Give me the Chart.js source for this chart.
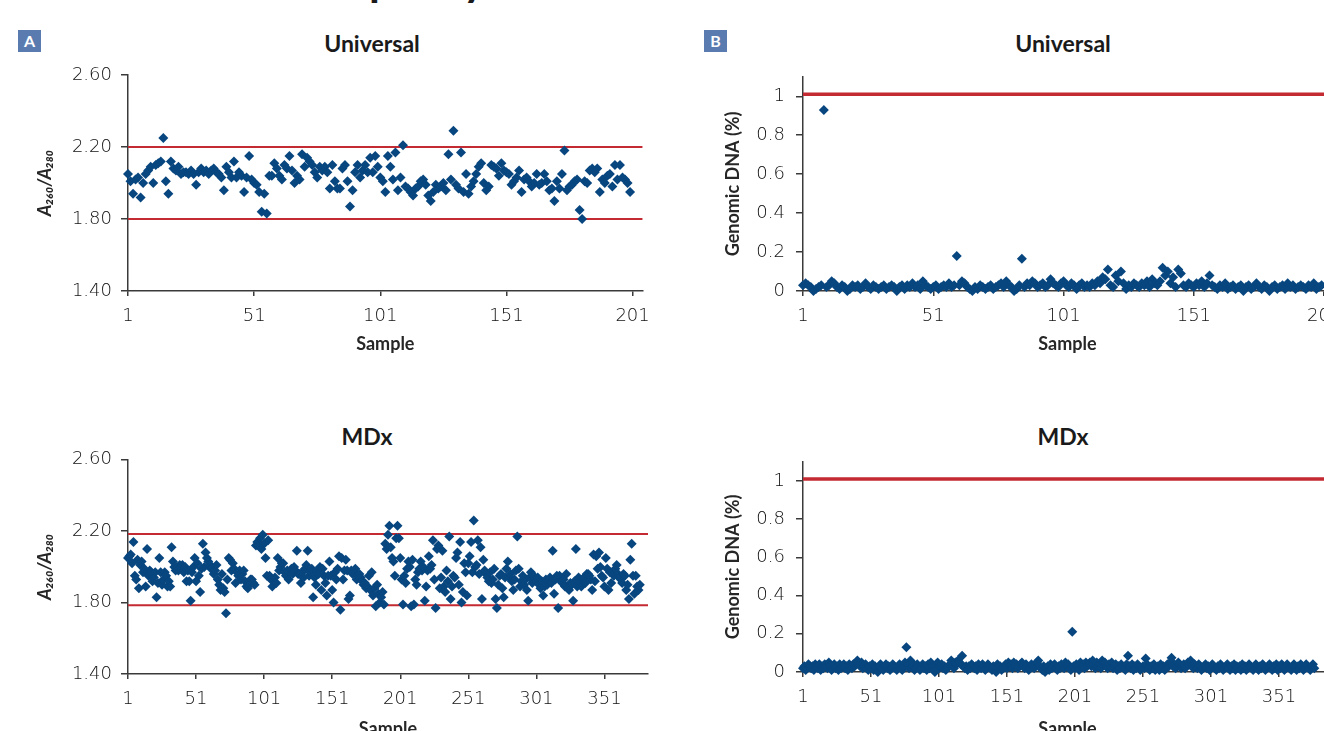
<!DOCTYPE html>
<html>
<head>
<meta charset="utf-8">
<script src="https://cdn.jsdelivr.net/npm/chart.js@4.4.1/dist/chart.umd.min.js"></script>
<style>
  html, body { margin: 0; padding: 0; width: 1324px; height: 731px; overflow: hidden; background: #fff; }
  body { position: relative; font-family: Lato, "DejaVu Sans", sans-serif; }
  canvas { position: absolute; }
  .head { position: absolute; top: -43px; right: 838px; font: bold 44px/44px Lato, sans-serif; color: #1a1a1a; white-space: nowrap; }
  .tag { position: absolute; top: 30px; width: 23px; height: 22px; background: #5a7bb0; color: #fff;
         font: bold 16px/22px Lato, sans-serif; text-align: center; }
  .ptitle { position: absolute; width: 200px; height: 28px; line-height: 28px; text-align: center;
            font-weight: bold; font-size: 23px; color: #1a1a1a; }
</style>
</head>
<body>
<div class="head">RNA purity</div>
<div class="tag" style="left:18px">A</div>
<div class="tag" style="left:704px">B</div>
<div class="ptitle" style="left:272px;top:29px">Universal</div>
<div class="ptitle" style="left:963px;top:29px">Universal</div>
<div class="ptitle" style="left:267px;top:422px">MDx</div>
<div class="ptitle" style="left:963px;top:422px">MDx</div>

<canvas id="ratioUniv" width="660" height="305" style="left:0;top:55px"></canvas>
<canvas id="gdnaUniv" width="720" height="305" style="left:660px;top:55px"></canvas>
<canvas id="ratioMdx" width="660" height="305" style="left:0;top:440px"></canvas>
<canvas id="gdnaMdx" width="720" height="305" style="left:660px;top:440px"></canvas>

<script>
// A260/A280 ratio, Universal kit (samples 1-200)
const univRatio = [
  2.05, 2.01, 1.94, 2.02, 2.03, 1.92, 2.00, 2.05, 2.07, 2.09,
  2.00, 2.10, 2.11, 2.12, 2.25, 2.01, 1.94, 2.12, 2.08, 2.07,
  2.09, 2.05, 2.06, 2.06, 2.05, 2.07, 2.05, 1.99, 2.06, 2.08,
  2.06, 2.07, 2.05, 2.07, 2.08, 2.06, 2.05, 2.03, 1.96, 2.09,
  2.06, 2.03, 2.12, 2.03, 2.06, 2.04, 1.95, 2.03, 2.15, 2.02,
  2.00, 1.99, 1.95, 1.84, 1.94, 1.83, 2.04, 2.04, 2.11, 2.08,
  2.04, 2.02, 2.10, 2.08, 2.15, 2.07, 2.00, 2.04, 2.02, 2.16,
  2.09, 2.14, 2.12, 2.10, 2.06, 2.03, 2.09, 2.07, 2.09, 2.06,
  1.97, 2.10, 2.01, 1.97, 1.97, 2.08, 2.10, 2.01, 1.87, 1.96,
  2.06, 2.10, 2.03, 2.07, 2.10, 2.06, 2.14, 2.06, 2.15, 2.09,
  2.03, 2.01, 1.95, 2.15, 2.09, 2.02, 2.17, 1.96, 2.03, 2.21,
  1.98, 1.97, 1.95, 1.93, 1.97, 1.98, 2.01, 2.02, 1.99, 1.93,
  1.90, 1.95, 1.99, 1.97, 1.98, 2.00, 1.96, 2.16, 2.02, 2.29,
  1.99, 1.97, 2.17, 1.95, 2.05, 1.94, 1.98, 2.01, 2.05, 2.09,
  2.11, 2.00, 1.96, 1.98, 2.10, 2.09, 2.08, 2.04, 2.11, 2.07,
  2.06, 2.05, 1.99, 2.01, 2.03, 2.07, 1.95, 2.02, 2.03, 2.01,
  1.98, 2.00, 2.05, 1.99, 2.00, 2.05, 2.01, 1.96, 1.97, 1.90,
  2.01, 1.97, 2.05, 2.18, 1.96, 1.98, 1.99, 2.01, 2.02, 1.85,
  1.80, 2.01, 2.00, 2.07, 2.08, 2.06, 2.08, 1.95, 2.02, 2.00,
  2.04, 2.05, 1.98, 2.10, 2.02, 2.10, 2.03, 2.02, 2.00, 1.95
];

// A260/A280 ratio, MDx kit (samples 1-377)
const mdxRatio = [
  2.05, 2.06, 2.07, 2.02, 2.14, 1.95, 1.93, 2.04, 1.88, 2.01,
  2.03, 1.97, 1.99, 1.89, 2.10, 1.95, 1.98, 1.97, 1.92, 1.94,
  1.97, 1.83, 1.91, 2.05, 1.97, 1.90, 1.93, 1.97, 1.95, 1.89,
  1.92, 1.89, 2.11, 2.03, 2.00, 1.98, 2.00, 1.98, 2.01, 2.00,
  2.01, 1.97, 2.00, 1.92, 1.98, 1.92, 1.81, 1.97, 2.00, 2.05,
  1.92, 2.02, 1.95, 1.86, 1.99, 2.13, 2.00, 2.08, 2.05, 2.03,
  2.01, 1.99, 2.00, 1.96, 1.98, 2.01, 1.93, 1.90, 1.87, 1.96,
  1.88, 1.86, 1.74, 1.93, 2.05, 2.04, 1.98, 2.02, 1.99, 1.91,
  1.97, 1.95, 1.98, 1.93, 1.96, 1.98, 1.92, 1.89, 1.88, 1.90,
  1.93, 1.93, 1.91, 1.90, 2.12, 2.14, 2.12, 2.16, 2.10, 2.18,
  2.13, 2.05, 1.95, 2.15, 1.95, 1.93, 1.89, 1.92, 1.94, 1.91,
  2.05, 1.98, 2.00, 2.02, 2.02, 1.97, 1.95, 1.98, 1.93, 1.97,
  1.99, 1.96, 2.00, 1.98, 2.09, 1.96, 1.96, 1.91, 1.97, 1.94,
  1.99, 2.01, 2.09, 1.95, 1.97, 1.99, 1.83, 1.94, 1.90, 1.98,
  1.96, 2.00, 1.87, 1.99, 1.95, 1.91, 1.84, 1.95, 2.03, 1.95,
  1.87, 1.80, 1.97, 1.93, 1.99, 2.06, 1.76, 2.05, 1.93, 1.98,
  2.04, 1.98, 1.82, 1.84, 1.98, 1.96, 1.97, 1.99, 1.93, 1.95,
  1.96, 1.94, 1.92, 1.90, 1.91, 1.88, 1.89, 1.95, 1.87, 1.97,
  1.84, 1.88, 1.78, 1.90, 1.85, 1.80, 1.83, 1.86, 1.79, 2.13,
  2.10, 2.18, 2.23, 2.11, 2.05, 2.03, 1.95, 2.16, 2.23, 2.16,
  2.05, 1.93, 1.79, 1.95, 1.91, 1.99, 2.03, 2.00, 1.78, 2.04,
  1.79, 1.93, 1.90, 1.97, 1.99, 2.03, 1.98, 2.00, 1.81, 1.89,
  1.98, 2.06, 1.99, 2.01, 2.15, 1.93, 1.77, 2.10, 2.12, 1.88,
  1.94, 2.09, 1.89, 1.86, 1.98, 1.92, 2.17, 1.82, 1.89, 1.95,
  1.94, 2.05, 2.08, 1.90, 2.14, 1.80, 1.86, 2.02, 1.97, 1.84,
  2.02, 2.06, 2.14, 1.97, 2.26, 2.00, 2.01, 2.15, 1.96, 2.11,
  1.82, 2.04, 1.98, 1.96, 1.94, 1.92, 1.97, 1.91, 1.93, 1.99,
  1.82, 1.77, 1.90, 1.95, 1.96, 1.88, 1.83, 1.94, 1.99, 2.03,
  1.94, 1.96, 1.92, 1.87, 1.93, 1.98, 2.17, 1.99, 1.89, 1.92,
  1.95, 1.90, 1.93, 1.87, 1.81, 1.94, 1.97, 1.91, 1.95, 1.93,
  1.92, 1.94, 1.90, 1.88, 1.92, 1.84, 1.89, 1.93, 1.90, 1.92,
  1.94, 1.91, 2.09, 1.85, 1.93, 1.95, 1.77, 1.95, 1.92, 1.91,
  1.93, 1.89, 1.96, 1.88, 1.87, 1.91, 1.90, 1.81, 1.92, 2.10,
  1.89, 1.94, 1.92, 1.89, 1.93, 1.94, 1.91, 1.96, 1.96, 1.95,
  1.93, 1.87, 2.07, 1.92, 2.06, 1.99, 2.08, 2.00, 1.95, 1.94,
  1.89, 2.05, 1.99, 1.87, 1.97, 1.91, 1.97, 1.95, 1.99, 2.01,
  1.96, 1.94, 1.93, 1.91, 1.96, 1.95, 1.87, 1.90, 1.82, 2.04,
  2.13, 1.95, 1.85, 1.95, 1.89, 1.87, 1.90
];

// Genomic DNA (%), Universal kit (samples 1-200)
const univGdna = [
  0.03, 0.04, 0.03, 0.02, 0.00, 0.01, 0.02, 0.03, 0.93, 0.02,
  0.03, 0.05, 0.04, 0.02, 0.01, 0.03, 0.02, 0.00, 0.01, 0.03,
  0.02, 0.03, 0.01, 0.02, 0.04, 0.02, 0.01, 0.03, 0.02, 0.01,
  0.02, 0.03, 0.01, 0.02, 0.03, 0.02, 0.00, 0.02, 0.03, 0.01,
  0.03, 0.02, 0.04, 0.02, 0.03, 0.01, 0.05, 0.03, 0.02, 0.01,
  0.02, 0.03, 0.01, 0.02, 0.03, 0.02, 0.04, 0.02, 0.03, 0.18,
  0.03, 0.05, 0.04, 0.02, 0.01, 0.00, 0.02, 0.01, 0.03, 0.02,
  0.01, 0.02, 0.03, 0.01, 0.02, 0.03, 0.04, 0.02, 0.05, 0.03,
  0.02, 0.00, 0.01, 0.03, 0.165, 0.02, 0.04, 0.03, 0.05, 0.04,
  0.02, 0.03, 0.04, 0.02, 0.03, 0.06, 0.04, 0.03, 0.02, 0.04,
  0.05, 0.03, 0.02, 0.04, 0.03, 0.01, 0.03, 0.04, 0.02, 0.03,
  0.02, 0.04, 0.03, 0.05, 0.04, 0.07, 0.06, 0.11, 0.03, 0.02,
  0.08, 0.05, 0.10, 0.04, 0.01, 0.03, 0.02, 0.04, 0.03, 0.02,
  0.04, 0.03, 0.05, 0.02, 0.06, 0.04, 0.03, 0.05, 0.12, 0.08,
  0.10, 0.04, 0.07, 0.02, 0.11, 0.09, 0.03, 0.02, 0.04, 0.03,
  0.02, 0.04, 0.03, 0.05, 0.02, 0.04, 0.08, 0.03, 0.02, 0.01,
  0.03, 0.02, 0.04, 0.01, 0.02, 0.03, 0.01, 0.02, 0.03, 0.00,
  0.02, 0.03, 0.01, 0.02, 0.04, 0.02, 0.01, 0.03, 0.02, 0.00,
  0.02, 0.03, 0.01, 0.02, 0.03, 0.01, 0.04, 0.02, 0.03, 0.01,
  0.02, 0.03, 0.02, 0.01, 0.03, 0.02, 0.04, 0.01, 0.02, 0.03
];

// Genomic DNA (%), MDx kit (samples 1-377)
const mdxGdna = [
  0.02, 0.03, 0.01, 0.02, 0.04, 0.03, 0.02, 0.03, 0.01, 0.04,
  0.03, 0.02, 0.04, 0.01, 0.03, 0.02, 0.04, 0.03, 0.02, 0.05,
  0.03, 0.01, 0.02, 0.04, 0.02, 0.03, 0.01, 0.04, 0.02, 0.03,
  0.04, 0.02, 0.03, 0.01, 0.04, 0.03, 0.02, 0.04, 0.03, 0.05,
  0.06, 0.04, 0.03, 0.05, 0.02, 0.03, 0.04, 0.02, 0.01, 0.03,
  0.02, 0.04, 0.01, 0.03, 0.02, 0.00, 0.03, 0.04, 0.02, 0.01,
  0.03, 0.04, 0.02, 0.03, 0.01, 0.02, 0.04, 0.03, 0.02, 0.01,
  0.03, 0.04, 0.02, 0.01, 0.03, 0.05, 0.13, 0.04, 0.02, 0.06,
  0.05, 0.03, 0.01, 0.02, 0.04, 0.03, 0.01, 0.02, 0.04, 0.02,
  0.03, 0.01, 0.04, 0.02, 0.05, 0.03, 0.01, 0.00, 0.04, 0.05,
  0.02, 0.03, 0.04, 0.02, 0.03, 0.01, 0.02, 0.03, 0.04, 0.06,
  0.03, 0.02, 0.05, 0.04, 0.06, 0.05, 0.04, 0.085, 0.03, 0.02,
  0.03, 0.01, 0.03, 0.02, 0.04, 0.03, 0.02, 0.03, 0.01, 0.04,
  0.03, 0.02, 0.04, 0.03, 0.01, 0.02, 0.04, 0.03, 0.02, 0.01,
  0.03, 0.02, 0.00, 0.04, 0.02, 0.03, 0.01, 0.02, 0.03, 0.04,
  0.02, 0.05, 0.03, 0.04, 0.02, 0.05, 0.03, 0.04, 0.02, 0.03,
  0.04, 0.05, 0.03, 0.02, 0.04, 0.03, 0.01, 0.02, 0.04, 0.03,
  0.02, 0.04, 0.05, 0.06, 0.03, 0.02, 0.01, 0.03, 0.00, 0.02,
  0.03, 0.01, 0.04, 0.02, 0.03, 0.04, 0.02, 0.01, 0.03, 0.02,
  0.04, 0.03, 0.02, 0.05, 0.03, 0.04, 0.02, 0.01, 0.21, 0.03,
  0.02, 0.04, 0.03, 0.01, 0.05, 0.03, 0.04, 0.02, 0.05, 0.03,
  0.04, 0.05, 0.03, 0.06, 0.04, 0.02, 0.05, 0.03, 0.04, 0.02,
  0.06, 0.04, 0.05, 0.03, 0.02, 0.04, 0.03, 0.05, 0.02, 0.03,
  0.04, 0.01, 0.03, 0.02, 0.04, 0.03, 0.02, 0.01, 0.04, 0.085,
  0.03, 0.02, 0.04, 0.01, 0.03, 0.02, 0.04, 0.03, 0.01, 0.02,
  0.03, 0.02, 0.07, 0.04, 0.02, 0.01, 0.03, 0.02, 0.04, 0.01,
  0.02, 0.03, 0.01, 0.04, 0.02, 0.03, 0.01, 0.02, 0.04, 0.03,
  0.05, 0.075, 0.03, 0.04, 0.02, 0.03, 0.05, 0.04, 0.02, 0.03,
  0.04, 0.02, 0.03, 0.05, 0.04, 0.06, 0.03, 0.02, 0.04, 0.03,
  0.02, 0.04, 0.03, 0.01, 0.02, 0.03, 0.04, 0.02, 0.03, 0.01,
  0.02, 0.04, 0.03, 0.02, 0.01, 0.03, 0.02, 0.04, 0.03, 0.01,
  0.02, 0.03, 0.04, 0.02, 0.01, 0.03, 0.02, 0.04, 0.01, 0.03,
  0.02, 0.03, 0.01, 0.04, 0.02, 0.03, 0.01, 0.02, 0.04, 0.03,
  0.02, 0.01, 0.03, 0.04, 0.02, 0.01, 0.03, 0.02, 0.04, 0.03,
  0.01, 0.02, 0.03, 0.04, 0.02, 0.01, 0.03, 0.02, 0.04, 0.01,
  0.03, 0.02, 0.04, 0.03, 0.01, 0.02, 0.04, 0.03, 0.02, 0.01,
  0.03, 0.04, 0.02, 0.01, 0.03, 0.02, 0.04, 0.03, 0.01, 0.02,
  0.04, 0.03, 0.02, 0.01, 0.03, 0.04, 0.02
];

// Tick labels and limit lines
const ratioTicks = [1.40, 1.80, 2.20, 2.60];
const gdnaTicks = [0, 0.2, 0.4, 0.6, 0.8, 1];
const univSampleTicks = [1, 51, 101, 151, 201];
const mdxSampleTicks = [1, 51, 101, 151, 201, 251, 301, 351];
const univRatioLimits = [1.80, 2.20];
const mdxRatioLimits = [1.785, 2.185];
const gdnaLimits = [1.01];

const BLUE = '#08467f';
const RED = '#c42a32';
const AXIS = '#3a3a3a';
const TEXT = '#262626';
const tickFont = { family: '"DejaVu Sans", Lato, sans-serif', size: 18, weight: 200 };
const titleFont = { family: 'Lato, "DejaVu Sans", sans-serif', size: 18, weight: 'bold' };

function buildPanel(id, p) {
    const datasets = [{
        type: 'scatter',
        data: p.values.map((v, i) => ({ x: i + 1, y: v })),
        pointStyle: 'rectRot',
        pointRadius: 5,
        pointBorderWidth: 0,
        backgroundColor: BLUE,
        clip: false,
        order: 0
    }];
    p.limits.forEach(v => datasets.push({
        type: 'line',
        data: [{ x: p.xMin, y: v }, { x: p.xMax, y: v }],
        borderColor: RED,
        borderWidth: p.limitWidth,
        pointRadius: 0,
        order: 1
    }));

    new Chart(document.getElementById(id), {
        type: 'scatter',
        data: { datasets },
        options: {
            responsive: false,
            animation: false,
            events: [],
            layout: { padding: { top: p.padTop, right: p.padRight, left: 0, bottom: 0 } },
            plugins: { legend: { display: false }, tooltip: { enabled: false } },
            scales: {
                x: {
                    type: 'linear',
                    min: p.xMin,
                    max: p.xMax,
                    afterBuildTicks: s => { s.ticks = p.xTicks.map(v => ({ value: v })); },
                    afterFit: s => { s.height = p.xHeight; },
                    grid: { drawOnChartArea: false, drawTicks: true, tickLength: 5, color: AXIS, lineWidth: 1.5 },
                    border: { display: true, color: AXIS, width: 1.5 },
                    ticks: { font: tickFont, color: '#111', padding: 10, maxRotation: 0, autoSkip: false },
                    title: { display: true, text: 'Sample', font: titleFont, color: TEXT, padding: { top: 0, bottom: 5 } }
                },
                y: {
                    type: 'linear',
                    min: p.yMin,
                    max: p.yMax,
                    afterBuildTicks: s => { s.ticks = p.yTicks.map(v => ({ value: v })); },
                    afterFit: s => { s.width = p.yWidth; },
                    grid: { drawOnChartArea: false, drawTicks: true, tickLength: 7, color: AXIS, lineWidth: 1.5 },
                    border: { display: true, color: AXIS, width: 1.5 },
                    ticks: { font: tickFont, color: '#111', padding: p.yPad, callback: p.yFormat },
                    title: { display: true, text: p.yTitle, font: p.yTitleFont, color: TEXT, padding: { top: p.yTitleOffset, bottom: 0 } }
                }
            }
        }
    });
}

const ratioTitleFont = { family: 'Lato, "DejaVu Sans", sans-serif', size: 18, weight: 'bold', style: 'italic' };

buildPanel('ratioUniv', {
    values: univRatio, limits: univRatioLimits, limitWidth: 2,
    xMin: 1, xMax: 205, xTicks: univSampleTicks, xHeight: 69,
    yMin: 1.4, yMax: 2.6, yTicks: ratioTicks, yWidth: 128, yPad: 9,
    yFormat: v => v.toFixed(2),
    yTitle: 'A\u2082\u2086\u2080/A\u2082\u2088\u2080', yTitleFont: ratioTitleFont, yTitleOffset: 34,
    padTop: 20, padRight: 12
});

buildPanel('ratioMdx', {
    values: mdxRatio, limits: mdxRatioLimits, limitWidth: 2,
    xMin: 1, xMax: 383, xTicks: mdxSampleTicks, xHeight: 71,
    yMin: 1.4, yMax: 2.6, yTicks: ratioTicks, yWidth: 128, yPad: 9,
    yFormat: v => v.toFixed(2),
    yTitle: 'A\u2082\u2086\u2080/A\u2082\u2088\u2080', yTitleFont: ratioTitleFont, yTitleOffset: 34,
    padTop: 18, padRight: 12
});

buildPanel('gdnaUniv', {
    values: univGdna, limits: gdnaLimits, limitWidth: 3.5,
    xMin: 1, xMax: 204, xTicks: univSampleTicks, xHeight: 69,
    yMin: 0, yMax: 1.1, yTicks: gdnaTicks, yWidth: 143, yPad: 11,
    yFormat: v => String(v),
    yTitle: 'Genomic DNA (%)', yTitleFont: titleFont, yTitleOffset: 62,
    padTop: 21, padRight: 48
});

buildPanel('gdnaMdx', {
    values: mdxGdna, limits: gdnaLimits, limitWidth: 3.5,
    xMin: 1, xMax: 390, xTicks: mdxSampleTicks, xHeight: 73,
    yMin: 0, yMax: 1.1, yTicks: gdnaTicks, yWidth: 143, yPad: 11,
    yFormat: v => String(v),
    yTitle: 'Genomic DNA (%)', yTitleFont: titleFont, yTitleOffset: 62,
    padTop: 17, padRight: 48
});
</script>
</body>
</html>
